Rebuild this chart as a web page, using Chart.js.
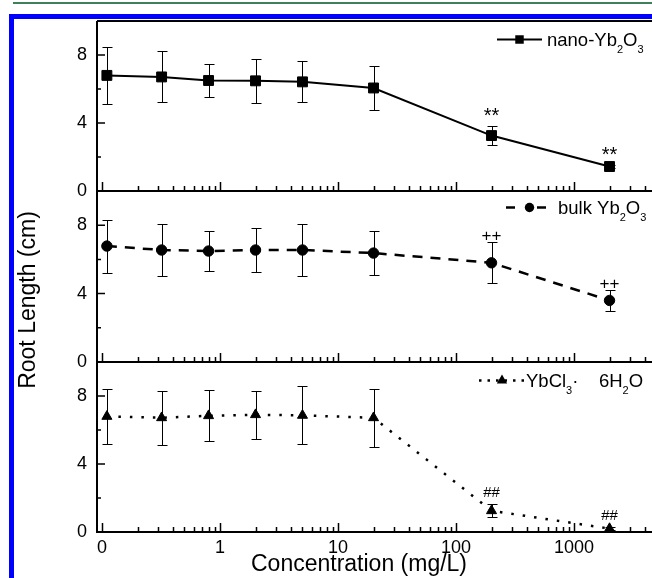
<!DOCTYPE html>
<html>
<head>
<meta charset="utf-8">
<script src="https://cdn.jsdelivr.net/npm/chart.js@4.4.0/dist/chart.umd.min.js"></script>
<style>
  html, body { margin: 0; padding: 0; background: #fff; overflow: hidden; }
  #wrap { position: relative; width: 652px; height: 578px; overflow: hidden; }
  #wrap canvas { position: absolute; left: 0; top: 0; }
  .green { position: absolute; left: 13px; top: 2px; width: 700px; height: 2px; background: #3f7f5a; }
  .blueTop { position: absolute; left: 9px; top: 14px; width: 700px; height: 5px; background: #0000ff; }
  .blueLeft { position: absolute; left: 9px; top: 14px; width: 5px; height: 600px; background: #0000ff; }
</style>
</head>
<body>
<div id="wrap">
  <div class="green"></div>
  <div class="blueTop"></div>
  <div class="blueLeft"></div>
  <canvas id="p1" width="700" height="578"></canvas>
  <canvas id="p2" width="700" height="578"></canvas>
  <canvas id="p3" width="700" height="578"></canvas>
</div>
<script>
// concentrations (mg/L), first point is the control
const conc = [0.11, 0.32, 0.8, 2, 5, 20, 200, 2000]

const nanoLen = [6.8, 6.71, 6.5, 6.48, 6.42, 6.06, 3.26, 1.44]
const nanoErr = [1.67, 1.5, 1.0, 1.3, 1.2, 1.3, 0.58, 0.1]
const nanoMarks = ["", "", "", "", "", "", "**", "**"]

const bulkLen = [6.78, 6.55, 6.49, 6.55, 6.55, 6.37, 5.8, 3.6]
const bulkErr = [1.55, 1.5, 1.17, 1.3, 1.5, 1.3, 1.2, 0.6]
const bulkMarks = ["", "", "", "", "", "", "++", "++"]

const yblLen = [6.8, 6.72, 6.84, 6.9, 6.86, 6.72, 1.25, 0.2]
const yblErr = [1.6, 1.6, 1.5, 1.4, 1.7, 1.7, 0.38, 0.1]
const yblMarks = ["", "", "", "", "", "", "##", "##"]

const xTickValues = [0.1, 1, 10, 100, 1000]
const xTickLabels = ["0", "1", "10", "100", "1000"]
const yTickValues = [0, 4, 8]
const yMinorValues = [2, 6]

const FONT = "'Liberation Sans', Arial, sans-serif"

function drawMarker(ctx, style, x, y, r) {
  ctx.beginPath()
  if (style === "rect") {
    const s = Math.SQRT1_2 * r
    ctx.rect(x - s, y - s, 2 * s, 2 * s)
  } else if (style === "circle") {
    ctx.arc(x, y, r, 0, Math.PI * 2)
  } else {
    ctx.moveTo(x, y - r)
    ctx.lineTo(x + r * 0.866, y + r / 2)
    ctx.lineTo(x - r * 0.866, y + r / 2)
    ctx.closePath()
  }
  ctx.fill()
}

// text with subscript parts: [[text, isSub], ...]
function drawRich(ctx, parts, x, y, size) {
  for (const [t, sub] of parts) {
    ctx.font = `${sub ? Math.round(size * 0.6) : size}px ${FONT}`
    ctx.fillText(t, x, sub ? y + 7 : y)
    x += ctx.measureText(t).width
  }
}

const panelDecor = {
  id: "panelDecor",
  beforeDatasetsDraw(chart, args, o) {
    const { ctx, chartArea: a, scales: { x, y } } = chart
    ctx.save()
    ctx.strokeStyle = "#000"
    ctx.fillStyle = "#000"

    // frame lines
    ctx.lineWidth = 2
    ctx.beginPath()
    ctx.moveTo(a.left, a.top); ctx.lineTo(a.left, a.bottom); ctx.lineTo(a.right + 10, a.bottom)
    if (o.topLine) { ctx.moveTo(a.left, a.top); ctx.lineTo(a.right + 10, a.top) }
    ctx.stroke()

    // inward ticks on the bottom axis
    ctx.lineWidth = 1.5
    ctx.beginPath()
    for (let d = -1; d <= 4; d++) {
      for (let k = 1; k <= 9; k++) {
        const v = k * Math.pow(10, d)
        if (v < x.min || v > x.max) continue
        const px = Math.round(x.getPixelForValue(v)) + 0.5
        ctx.moveTo(px, a.bottom)
        ctx.lineTo(px, a.bottom - (k === 1 ? 9 : 5))
      }
    }
    // inward ticks on the left axis
    yTickValues.forEach(v => {
      const py = y.getPixelForValue(v)
      ctx.moveTo(a.left, py); ctx.lineTo(a.left + 8, py)
    })
    yMinorValues.forEach(v => {
      const py = y.getPixelForValue(v)
      ctx.moveTo(a.left, py); ctx.lineTo(a.left + 4, py)
    })
    ctx.stroke()

    // y tick labels
    ctx.font = `18px ${FONT}`
    ctx.textAlign = "right"
    ctx.textBaseline = "middle"
    yTickValues.forEach(v => ctx.fillText(String(v), a.left - 10, y.getPixelForValue(v)))

    // error bars
    ctx.lineWidth = 1
    ctx.beginPath()
    o.values.forEach((v, i) => {
      const px = Math.round(x.getPixelForValue(conc[i])) + 0.5
      const t = Math.round(y.getPixelForValue(v + o.errors[i])) + 0.5
      const b = Math.round(y.getPixelForValue(v - o.errors[i])) + 0.5
      ctx.moveTo(px, t); ctx.lineTo(px, b)
      ctx.moveTo(px - 5, t); ctx.lineTo(px + 5, t)
      ctx.moveTo(px - 5, b); ctx.lineTo(px + 5, b)
    })
    ctx.stroke()

    if (o.bottomAxis) {
      ctx.font = `18px ${FONT}`
      ctx.textAlign = "center"
      ctx.textBaseline = "alphabetic"
      xTickValues.forEach((v, i) => ctx.fillText(xTickLabels[i], x.getPixelForValue(v), a.bottom + 21))
      ctx.font = `23px ${FONT}`
      ctx.fillText("Concentration (mg/L)", 359, 571)
      ctx.save()
      ctx.translate(34.5, 300)
      ctx.rotate(-Math.PI / 2)
      ctx.fillText("Root Length (cm)", 0, 0)
      ctx.restore()
    }
    ctx.restore()
  },
  afterDatasetsDraw(chart, args, o) {
    const { ctx, scales: { x, y } } = chart
    ctx.save()
    ctx.fillStyle = "#000"
    ctx.strokeStyle = "#000"

    // significance marks
    ctx.font = `${o.markSize}px ${FONT}`
    ctx.textAlign = "center"
    ctx.textBaseline = "alphabetic"
    o.marks.forEach((m, i) => {
      if (!m) return
      const py = y.getPixelForValue(o.values[i] + o.errors[i]) - o.markGap
      ctx.fillText(m, x.getPixelForValue(conc[i]), py)
    })

    // legend
    const L = o.legend
    ctx.lineWidth = L.lw
    ctx.setLineDash(L.dash)
    ctx.beginPath()
    ctx.moveTo(L.x0, L.y); ctx.lineTo(L.x1, L.y)
    ctx.stroke()
    ctx.setLineDash([])
    drawMarker(ctx, o.marker, L.mx, L.y, L.mr)
    ctx.textAlign = "left"
    drawRich(ctx, L.text, L.tx, L.ty, 18.5)
    ctx.restore()
  }
}

function makePanel(id, p) {
  return new Chart(document.getElementById(id), {
    type: "line",
    data: {
      datasets: [{
        data: conc.map((c, i) => ({ x: c, y: p.values[i] })),
        borderColor: "#000",
        borderWidth: p.lw,
        borderDash: p.dash,
        tension: 0,
        fill: false,
        clip: false,
        pointStyle: p.marker,
        pointRadius: p.radius,
        pointBackgroundColor: "#000",
        pointBorderColor: "#000",
        pointBorderWidth: 1
      }]
    },
    options: {
      responsive: false,
      animation: false,
      events: [],
      layout: { padding: { left: 97, right: 8, top: p.top, bottom: 578 - p.bottom } },
      plugins: {
        legend: { display: false },
        tooltip: { enabled: false },
        panelDecor: {
          values: p.values, errors: p.errors, marks: p.marks,
          markSize: p.markSize, markGap: p.markGap, marker: p.marker,
          legend: p.legend, topLine: p.topLine, bottomAxis: p.bottomAxis
        }
      },
      scales: {
        x: { type: "logarithmic", min: 0.0907, max: 10000, display: false },
        y: { type: "linear", min: 0, max: 10, display: false }
      }
    },
    plugins: [panelDecor]
  })
}

makePanel("p1", {
  values: nanoLen, errors: nanoErr, marks: nanoMarks, markSize: 20, markGap: 4,
  top: 21, bottom: 191, topLine: true, bottomAxis: false,
  lw: 2, dash: [], marker: "rect", radius: 7,
  legend: { x0: 497, x1: 542, y: 39.5, mx: 519.5, mr: 6, lw: 2, dash: [],
            tx: 547, ty: 45.5, text: [["nano-Yb", 0], ["2", 1], ["O", 0], ["3", 1]] }
})

makePanel("p2", {
  values: bulkLen, errors: bulkErr, marks: bulkMarks, markSize: 17, markGap: 1,
  top: 191, bottom: 362, topLine: false, bottomAxis: false,
  lw: 2.5, dash: [10, 8], marker: "circle", radius: 5.2,
  legend: { x0: 506, x1: 548, y: 207.5, mx: 529.5, mr: 4.7, lw: 2.5, dash: [9, 22],
            tx: 558, ty: 213.5, text: [["bulk Yb", 0], ["2", 1], ["O", 0], ["3", 1]] }
})

makePanel("p3", {
  values: yblLen, errors: yblErr, marks: yblMarks, markSize: 15, markGap: 7,
  top: 362, bottom: 532, topLine: false, bottomAxis: true,
  lw: 2.5, dash: [2.5, 9], marker: "triangle", radius: 5.8,
  legend: { x0: 479, x1: 525, y: 380.5, mx: 502, mr: 6, lw: 2.5, dash: [2.5, 6],
            tx: 526, ty: 386.5, text: [["YbCl", 0], ["3", 1], ["·    6H", 0], ["2", 1], ["O", 0]] }
})
</script>
</body>
</html>
